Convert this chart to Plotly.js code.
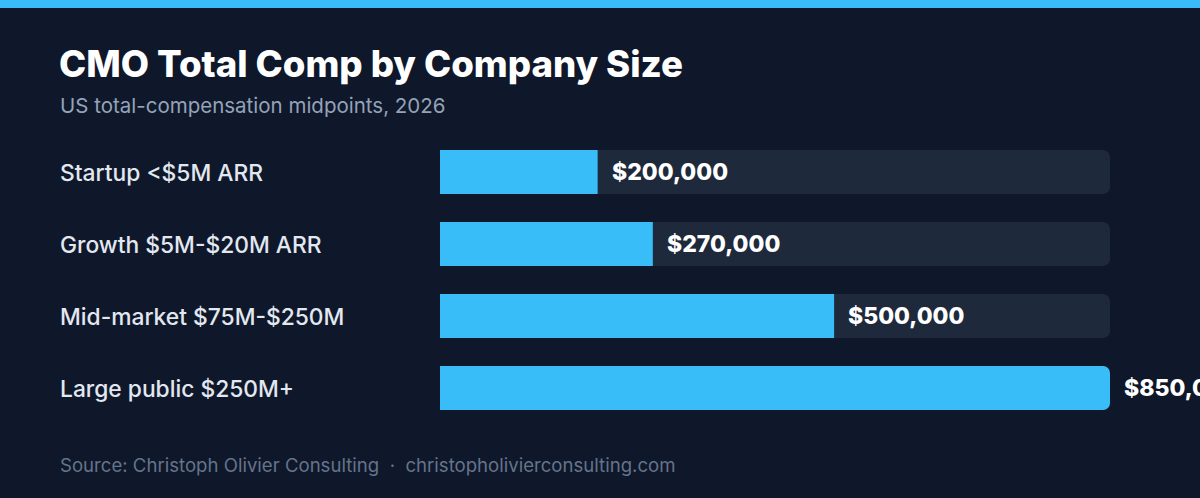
<!DOCTYPE html>
<html>
<head>
<meta charset="utf-8">
<script src="https://cdn.plot.ly/plotly-3.0.1.min.js"></script>
<style>
  html, body { margin: 0; padding: 0; background: #0f172a; }
  #chart { width: 1200px; height: 498px; }
</style>
</head>
<body>
<div id="chart"></div>
<script>
// data
var categories = ['Startup <$5M ARR', 'Growth $5M-$20M ARR', 'Mid-market $75M-$250M', 'Large public $250M+'];
var midpoints = [200000, 270000, 500000, 850000];
var valueLabels = ['$200,000', '$270,000', '$500,000', '$850,000'];
var trackMax = 850000;

var W = 1200, H = 498;
var M = {l: 440, r: 90, t: 136, b: 74};
var PW = W - M.l - M.r, PH = H - M.t - M.b;

// pixel -> paper helpers for text placed outside the plot area
function px(x) { return (x - M.l) / PW; }
function py(y) { return (H - M.b - y) / PH; }

var track = {
  type: 'bar',
  orientation: 'h',
  y: categories,
  x: categories.map(function () { return trackMax; }),
  marker: {color: '#1e293b', cornerradius: 7},
  width: 0.61,
  hoverinfo: 'skip'
};

var bars = {
  type: 'bar',
  orientation: 'h',
  y: categories,
  x: midpoints,
  marker: {color: '#38bdf8', cornerradius: 7},
  width: 0.61,
  hoverinfo: 'skip'
};

var annotations = [];

categories.forEach(function (c, i) {
  annotations.push({
    xref: 'paper', yref: 'y', x: px(60), y: c, xshift: -2,
    xanchor: 'left', yanchor: 'middle', showarrow: false,
    text: c,
    font: {family: 'Inter', size: 22.8, color: '#e2e8f0', weight: 500}
  });
  annotations.push({
    xref: 'x', yref: 'y', x: midpoints[i], y: c,
    xanchor: 'left', yanchor: 'middle', xshift: 12, showarrow: false,
    text: valueLabels[i],
    font: {family: 'Inter', size: 23, color: '#ffffff', weight: 800}
  });
});

annotations.push({
  xref: 'paper', yref: 'paper', x: px(60), y: py(64), xshift: -3,
  xanchor: 'left', yanchor: 'middle', showarrow: false,
  text: 'CMO Total Comp by Company Size',
  font: {family: 'Inter', size: 36.6, color: '#ffffff', weight: 800}
});
annotations.push({
  xref: 'paper', yref: 'paper', x: px(60), y: py(105), xshift: -2,
  xanchor: 'left', yanchor: 'middle', showarrow: false,
  text: 'US total-compensation midpoints, 2026',
  font: {family: 'Inter', size: 20.5, color: '#94a3b8'}
});
annotations.push({
  xref: 'paper', yref: 'paper', x: px(60), y: py(465), xshift: -2,
  xanchor: 'left', yanchor: 'middle', showarrow: false,
  text: 'Source: Christoph Olivier Consulting  \u00b7  christopholivierconsulting.com',
  font: {family: 'Inter', size: 18.6, color: '#64748b'}
});

var layout = {
  width: W, height: H,
  margin: M,
  paper_bgcolor: '#0f172a',
  plot_bgcolor: '#0f172a',
  barmode: 'overlay',
  showlegend: false,
  xaxis: {range: [0, trackMax], visible: false, fixedrange: true},
  yaxis: {autorange: 'reversed', visible: false, fixedrange: true},
  shapes: [{
    type: 'rect', xref: 'paper', yref: 'paper',
    x0: px(0), x1: px(W), y0: py(8), y1: py(0),
    fillcolor: '#38bdf8', line: {width: 0}
  }],
  annotations: annotations
};

Plotly.newPlot('chart', [track, bars], layout, {displayModeBar: false, staticPlot: true});
</script>
</body>
</html>
